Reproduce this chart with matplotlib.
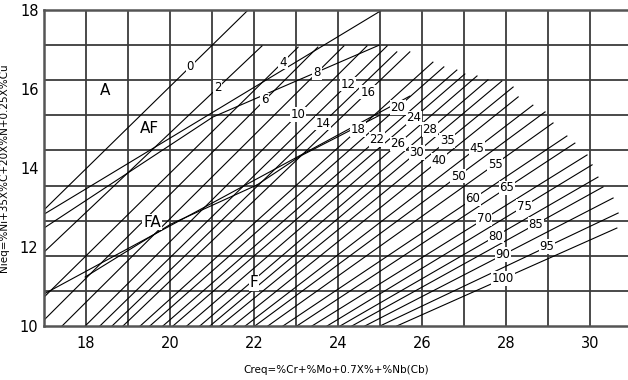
import matplotlib
matplotlib.use("Agg")
import matplotlib.pyplot as plt

# iso ferrite-number lines: lower end (Creq, Nieq) and upper end
fn_values = [0, 2, 4, 6, 8, 10, 12, 14, 16, 18, 20, 22, 24, 26, 28, 30,
             35, 40, 45, 50, 55, 60, 65, 70, 75, 80, 85, 90, 95, 100]
creq_lo = [17.0, 17.0, 17.0, 17.0, 17.43, 17.98, 18.33, 18.62, 18.88, 19.29,
           19.52, 19.83, 20.07, 20.40, 20.71, 20.95, 21.19, 21.50, 21.79, 22.02,
           22.33, 22.69, 23.02, 23.38, 23.74, 24.05, 24.33, 24.64, 25.00, 25.40]
nieq_lo = [12.94, 11.87, 10.73, 10.15] + [10.0] * 26
creq_hi = [21.86, 22.19, 23.05, 23.52, 24.14, 24.69, 25.17, 25.40, 25.71, 26.26,
           26.52, 26.83, 27.02, 27.31, 27.57, 27.90, 28.17, 28.29, 28.64, 28.93,
           29.12, 29.45, 29.64, 29.93, 30.05, 30.19, 30.31, 30.55, 30.67, 30.64]
nieq_hi = [18.0, 17.09, 17.06, 17.06, 17.09, 17.09, 17.09, 16.94, 16.94, 16.68,
           16.56, 16.48, 16.38, 16.33, 16.23, 16.20, 16.05, 15.80, 15.59, 15.42,
           15.14, 14.81, 14.63, 14.33, 14.08, 13.77, 13.52, 13.24, 12.86, 12.48]
label_creq = [20.48, 21.14, 22.69, 22.26, 23.50, 23.05, 24.24, 23.64, 24.71, 24.48,
              25.43, 24.93, 25.81, 25.43, 26.19, 25.88, 26.60, 26.40, 27.31, 26.86,
              27.74, 27.21, 28.02, 27.48, 28.43, 27.76, 28.71, 27.93, 28.98, 27.93]

# phase boundary lines (polylines)
bnd_creq = [
    [17.0, 25.05],
    [17.0, 21.02, 24.98],
    [17.0, 25.71],
    [17.98, 20.02, 22.07],
    [22.07, 23.10, 25.00],
]
bnd_nieq = [
    [12.83, 18.0],
    [12.48, 15.29, 17.11],
    [10.81, 15.82],
    [11.24, 12.58, 13.57],
    [13.57, 14.30, 15.34],
]

phases = ["A", "AF", "FA", "F"]
phase_creq = [18.45, 19.52, 19.57, 22.0]
phase_nieq = [15.97, 15.01, 12.63, 11.09]

narrow = ["Liberation Sans Narrow", "DejaVu Sans"]

fig = plt.figure(figsize=(6.28, 3.8), dpi=100)
ax = fig.add_axes([44 / 628, 54 / 380, 584 / 628, 316 / 380])
ax.set_xlim(17, 17 + 584 / 42)
ax.set_ylim(10, 18)

grid_c = "#3c3c3c"
for x in range(18, 31):
    ax.axvline(x, color=grid_c, lw=1.3, zorder=1)
for k in range(1, 9):
    ax.axhline(10 + k * 8 / 9, color=grid_c, lw=1.3, zorder=1)

for side in ["left", "top", "bottom"]:
    ax.spines[side].set_color("#555555")
    ax.spines[side].set_linewidth(1.8)
ax.spines["right"].set_visible(False)

for i, v in enumerate(fn_values):
    ax.plot([creq_lo[i], creq_hi[i]], [nieq_lo[i], nieq_hi[i]],
            color="black", lw=0.8, zorder=2)
    t = (label_creq[i] - creq_lo[i]) / (creq_hi[i] - creq_lo[i])
    ly = nieq_lo[i] + t * (nieq_hi[i] - nieq_lo[i])
    ax.text(label_creq[i], ly, str(v), fontsize=8.5, ha="center", va="center",
            family=narrow, zorder=4,
            bbox=dict(facecolor="white", edgecolor="none", pad=0.6))

for bx, by in zip(bnd_creq, bnd_nieq):
    ax.plot(bx, by, color="black", lw=0.8, zorder=2)

for name, x, y in zip(phases, phase_creq, phase_nieq):
    ax.text(x, y, name, fontsize=11, ha="center", va="center", zorder=4,
            family=narrow,
            bbox=dict(facecolor="white", edgecolor="none", pad=0.5))

ax.set_xticks([18, 20, 22, 24, 26, 28, 30])
ax.set_yticks([10, 12, 14, 16, 18])
ax.tick_params(length=0, labelsize=10.5, pad=7)
ax.tick_params(axis="y", pad=4)
for lab in ax.get_xticklabels() + ax.get_yticklabels():
    lab.set_family(narrow)
ax.set_xlabel("Creq=%Cr+%Mo+0.7X%+%Nb(Cb)", fontsize=7.5, labelpad=10)
ax.set_ylabel("Nieq=%Ni+35X%C+20X%N+0.25X%Cu", fontsize=7.5, labelpad=8)

fig.savefig("out.png", dpi=100)
